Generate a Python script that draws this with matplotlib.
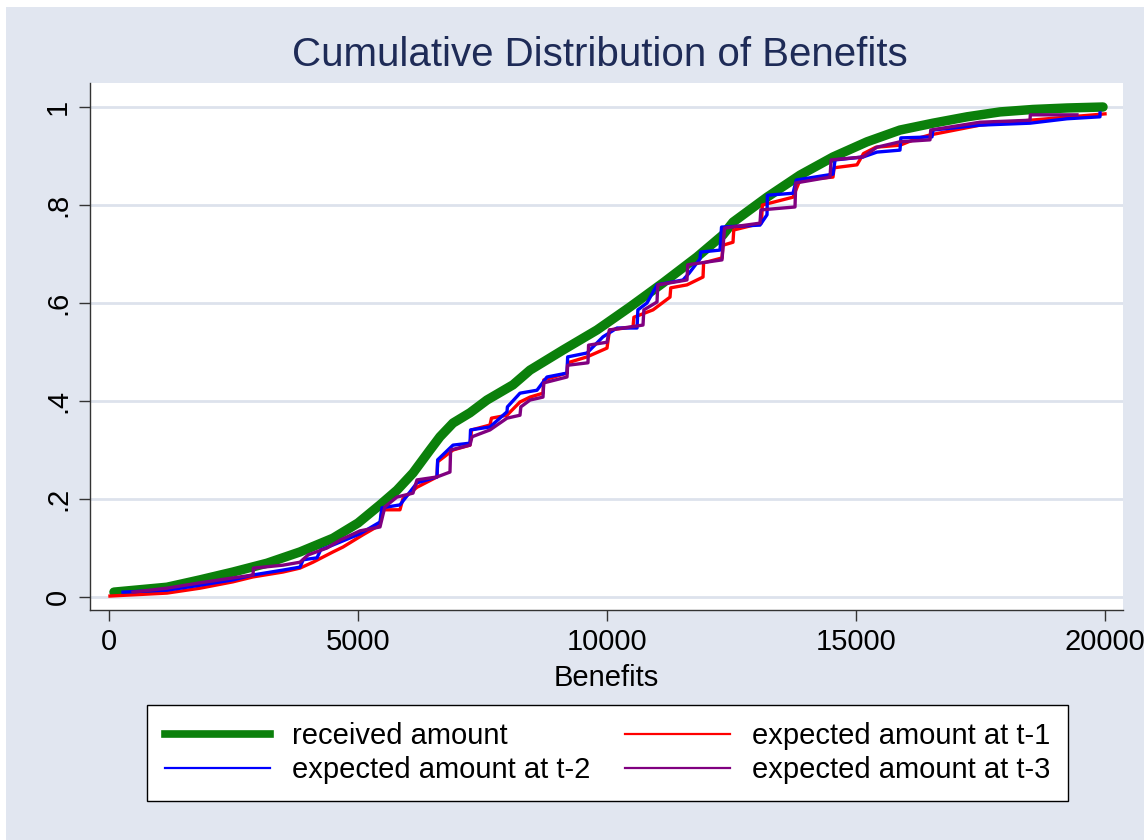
import matplotlib
matplotlib.use("Agg")
import matplotlib.pyplot as plt
from matplotlib.lines import Line2D
from matplotlib.patches import Rectangle

plt.rcParams['font.family'] = ['Liberation Sans', 'DejaVu Sans']

title = "Cumulative Distribution of Benefits"
x_label = "Benefits"
x_ticks = [0, 5000, 10000, 15000, 20000]
x_ticklabels = ["0", "5000", "10000", "15000", "20000"]
y_ticks = [0, 0.2, 0.4, 0.6, 0.8, 1.0]
y_ticklabels = ["0", ".2", ".4", ".6", ".8", "1"]
series_names = ["received amount", "expected amount at t-1",
                "expected amount at t-2", "expected amount at t-3"]

# received amount
recv_x = [100, 1165, 1827, 2490, 3173, 3835, 4498, 5000, 5442, 5783, 6104, 6446,
          6646, 6908, 7249, 7590, 8112, 8454, 9116, 9799, 10462, 11124, 11807,
          12329, 12530, 13213, 13875, 14538, 15221, 15883, 16546, 17229, 17891,
          18554, 19237, 19960]
recv_y = [0.010, 0.020, 0.035, 0.051, 0.069, 0.092, 0.120, 0.151, 0.188, 0.218,
          0.253, 0.300, 0.327, 0.355, 0.376, 0.402, 0.433, 0.463, 0.504, 0.545,
          0.592, 0.641, 0.694, 0.739, 0.765, 0.816, 0.861, 0.898, 0.929, 0.953,
          0.967, 0.980, 0.990, 0.995, 0.998, 1.000]

# expected at t-1
t1_x = [20, 1165, 1827, 2490, 2892, 3494, 3835, 4096, 4498, 4699, 5100, 5442,
        5480, 5843, 5900, 6185, 6586, 6600, 6908, 7249, 7280, 7650, 7680, 7992,
        8253, 8454, 8715, 8730, 9197, 9210, 9598, 10000, 10050, 10522, 10540,
        10924, 11265, 11280, 11606, 11928, 11940, 12309, 12330, 12530, 12545,
        13100, 13120, 13735, 13875, 14538, 14560, 15020, 15150, 15400, 15883,
        16200, 16486, 17490, 18494, 20000]
t1_y = [0.002, 0.008, 0.018, 0.031, 0.041, 0.051, 0.059, 0.071, 0.092, 0.102,
        0.127, 0.147, 0.178, 0.178, 0.200, 0.224, 0.245, 0.276, 0.300, 0.310,
        0.341, 0.351, 0.365, 0.371, 0.398, 0.408, 0.416, 0.443, 0.457, 0.478,
        0.490, 0.508, 0.545, 0.551, 0.571, 0.586, 0.612, 0.631, 0.637, 0.653,
        0.682, 0.692, 0.718, 0.724, 0.749, 0.763, 0.800, 0.816, 0.851, 0.857,
        0.876, 0.882, 0.905, 0.918, 0.922, 0.935, 0.943, 0.963, 0.973, 0.986]

# expected at t-2
t2_x = [281, 1165, 1827, 2490, 2892, 3494, 3835, 3900, 4177, 4250, 4638, 5040,
        5442, 5480, 5843, 6185, 6586, 6600, 6908, 7249, 7260, 7650, 7992, 8000,
        8253, 8594, 8795, 9197, 9210, 9598, 9920, 10201, 10603, 10620, 10803,
        11004, 11526, 11650, 11867, 11880, 12269, 12300, 13072, 13213, 13220,
        13735, 13800, 14538, 14580, 15140, 15421, 15883, 15900, 16526, 16546,
        17490, 18494, 19237, 19899, 19900]
t2_y = [0.010, 0.014, 0.024, 0.035, 0.045, 0.055, 0.061, 0.076, 0.080, 0.096,
        0.112, 0.129, 0.153, 0.182, 0.188, 0.233, 0.245, 0.280, 0.310, 0.314,
        0.341, 0.347, 0.378, 0.388, 0.416, 0.422, 0.449, 0.457, 0.490, 0.498,
        0.531, 0.549, 0.549, 0.586, 0.600, 0.637, 0.647, 0.661, 0.690, 0.704,
        0.708, 0.755, 0.759, 0.780, 0.820, 0.824, 0.851, 0.863, 0.892, 0.898,
        0.908, 0.912, 0.937, 0.939, 0.953, 0.963, 0.967, 0.976, 0.980, 0.988]

# expected at t-3
t3_x = [482, 1165, 1827, 2490, 2892, 2900, 3494, 3835, 4000, 4377, 4638, 5040,
        5442, 5540, 5783, 6104, 6185, 6586, 6847, 6860, 7249, 7290, 7650, 7992,
        8253, 8270, 8454, 8715, 8730, 9197, 9210, 9618, 9630, 10000, 10050,
        10723, 10740, 11004, 11020, 11606, 11620, 12309, 12360, 13072, 13090,
        13775, 13790, 14478, 14500, 15140, 15421, 15883, 16486, 16500, 17490,
        18494, 18500, 19437]
t3_y = [0.010, 0.018, 0.029, 0.039, 0.045, 0.059, 0.065, 0.071, 0.086, 0.100,
        0.116, 0.135, 0.143, 0.184, 0.204, 0.212, 0.239, 0.245, 0.255, 0.300,
        0.310, 0.327, 0.341, 0.365, 0.371, 0.388, 0.402, 0.408, 0.437, 0.449,
        0.473, 0.478, 0.514, 0.520, 0.545, 0.555, 0.586, 0.602, 0.637, 0.647,
        0.678, 0.688, 0.753, 0.763, 0.790, 0.796, 0.845, 0.857, 0.892, 0.898,
        0.918, 0.929, 0.933, 0.953, 0.969, 0.973, 0.984, 0.984]

BG = "#E1E6F0"
GRID = "#DDE2EC"
FS = 21
fig = plt.figure(figsize=(11.44, 8.4), dpi=100, facecolor=BG)
# white margins at top and left as in the reference
fig.patches.append(Rectangle((0, 1 - 7 / 840), 1, 7 / 840, transform=fig.transFigure,
                             facecolor="white", edgecolor="none", zorder=-5))
fig.patches.append(Rectangle((0, 0), 6 / 1144, 1, transform=fig.transFigure,
                             facecolor="white", edgecolor="none", zorder=-5))

ax = fig.add_axes([90 / 1144, 1 - 610 / 840, (1123 - 90) / 1144, (610 - 83) / 840])
ax.set_facecolor("white")
ax.set_xlim(-381, 20361)
ax.set_ylim(-0.0265, 1.049)

for yt in y_ticks:
    ax.axhline(yt, color=GRID, lw=2.0, zorder=0)

ax.plot(recv_x, recv_y, color="#0B800B", lw=6.8, solid_capstyle="round",
        solid_joinstyle="round", zorder=2)
ax.plot(t1_x, t1_y, color="#FF0000", lw=2.4, zorder=3)
ax.plot(t2_x, t2_y, color="#0000FF", lw=2.4, zorder=4)
ax.plot(t3_x, t3_y, color="#800080", lw=2.4, zorder=5)

for s in ["top", "right"]:
    ax.spines[s].set_visible(False)
for s in ["left", "bottom"]:
    ax.spines[s].set_color("#333333")
    ax.spines[s].set_linewidth(1.0)

ax.set_xticks(x_ticks)
ax.set_xticklabels(x_ticklabels)
ax.set_yticks(y_ticks)
ax.set_yticklabels(y_ticklabels, rotation=90, va="center")
ax.tick_params(axis="both", direction="out", length=8, width=1.0, color="#333333",
               labelsize=FS, labelcolor="black", pad=5)

ax.set_xlabel(x_label, fontsize=FS, labelpad=6)
fig.text(0.524, 1 - 55 / 840, title, ha="center", va="center", fontsize=29,
         color="#1E2B57")

handles = [Line2D([], [], color="#0B800B", lw=5.5),
           Line2D([], [], color="#0000FF", lw=1.6),
           Line2D([], [], color="#FF0000", lw=1.6),
           Line2D([], [], color="#800080", lw=1.6)]
labels = [series_names[0], series_names[2], series_names[1], series_names[3]]
leg = fig.legend(handles, labels, ncol=2, loc="center",
                 bbox_to_anchor=((147 + 1068) / 2 / 1144, 1 - 753 / 840),
                 fontsize=FS, frameon=True, fancybox=False, handlelength=3.6,
                 handletextpad=0.75, columnspacing=1.2, labelspacing=0.2,
                 borderpad=0.6)
leg.get_frame().set_edgecolor("black")
leg.get_frame().set_linewidth(1.0)
leg.get_frame().set_facecolor("white")
leg.get_frame().set_alpha(1.0)

fig.savefig("out.png", dpi=100, facecolor=BG)
